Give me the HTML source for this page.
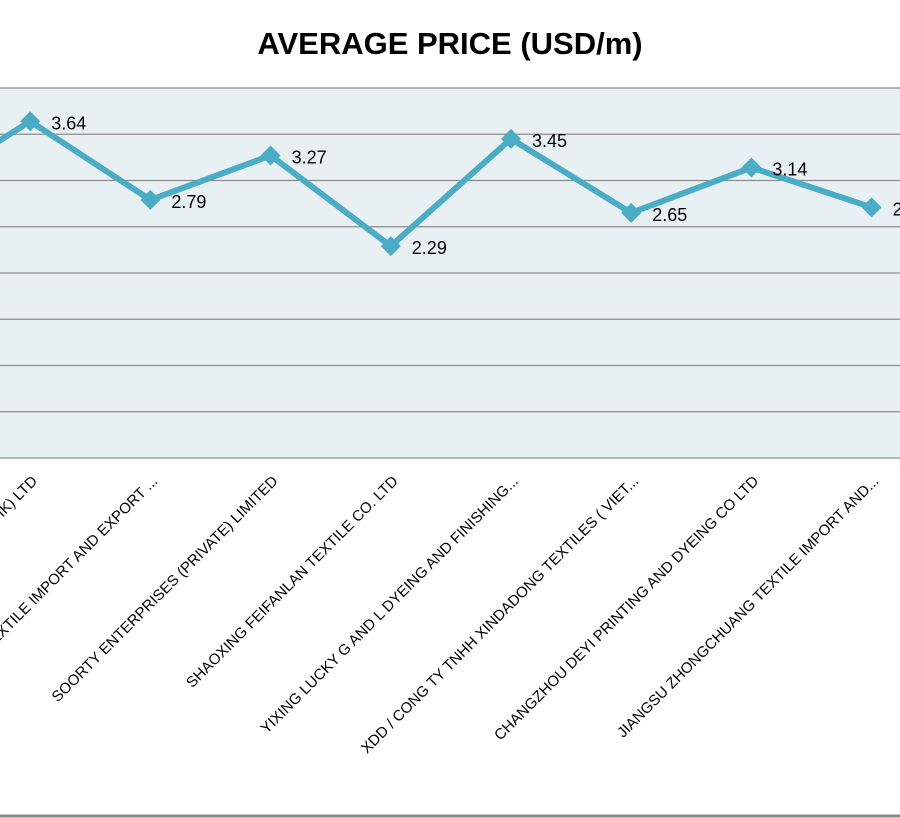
<!DOCTYPE html>
<html><head><meta charset="utf-8"><style>
html,body{margin:0;padding:0;background:#fff;overflow:hidden}
svg{display:block;font-family:"Liberation Sans","DejaVu Sans",sans-serif}
</style></head><body>
<svg id="chart" width="900" height="818" viewBox="0 0 900 818" xmlns="http://www.w3.org/2000/svg">
<rect x="0" y="0" width="900" height="818" fill="#fff"/>
<text x="450" y="54" text-anchor="middle" font-size="31" font-weight="bold" fill="#000">AVERAGE PRICE (USD/m)</text>
<rect x="0" y="88" width="900" height="370" fill="#e8f0f4"/>
<g id="grid"></g>
<g id="series"></g>
<g id="xlabels"></g>
<line x1="0" y1="816" x2="900" y2="816" stroke="#888" stroke-width="3"/>
</svg>
<script>
const categories = ["GUANGZHOU TEXTILE CO. LTD","HANGZHOU TEXTILES (HK) LTD","ZHEJIANG TEXTILE IMPORT AND EXPORT ...","SOORTY ENTERPRISES (PRIVATE) LIMITED","SHAOXING FEIFANLAN TEXTILE CO. LTD","YIXING LUCKY G AND L DYEING AND FINISHING...","XDD / CONG TY TNHH XINDADONG TEXTILES ( VIET...","CHANGZHOU DEYI PRINTING AND DYEING CO LTD","JIANGSU ZHONGCHUANG TEXTILE IMPORT AND..."];
const values = [2.82,3.64,2.79,3.27,2.29,3.45,2.65,3.14,2.71];
const yTicks = [0,0.5,1,1.5,2,2.5,3,3.5,4];
const NS="http://www.w3.org/2000/svg";
const yBase=458, yPerUnit=92.5;
function yScale(v){return yBase - v*yPerUnit;}
function xScale(i){return -90 + i*120.2;}
function mk(tag,attrs,parent){const e=document.createElementNS(NS,tag);for(const k in attrs)e.setAttribute(k,attrs[k]);parent.appendChild(e);return e;}
const grid=document.getElementById('grid');
yTicks.forEach(t=>{
  const l=mk('line',{x1:0,x2:900,y1:yScale(t),y2:yScale(t),stroke:'#8c8c8c','stroke-width':1.2},grid);
  
  
});
const s=document.getElementById('series');
const pts=values.map((v,i)=>xScale(i)+','+yScale(v)).join(' ');
const pl=mk('polyline',{points:pts,fill:'none',stroke:'#4bacc6','stroke-width':6,'stroke-linejoin':'miter'},s);


values.forEach((v,i)=>{
  const x=xScale(i),y=yScale(v);
  const d=mk('polygon',{points:`${x},${y-10} ${x+10},${y} ${x},${y+10} ${x-10},${y}`,fill:'#4bacc6'},s);
  
  
  const t=mk('text',{x:x+21,y:y+8,'font-size':18,fill:'#000'},s);
  t.textContent=v.toFixed(2);
  
  
});
const xl=document.getElementById('xlabels');
categories.forEach((c,i)=>{
  const x=xScale(i)+8,y=482;
  const t=mk('text',{x:x,y:y,'font-size':15,'text-anchor':'end',fill:'#000',transform:`rotate(-45 ${x} ${y})`},xl);
  t.textContent=c;
  
  
});
</script>
</body></html>
